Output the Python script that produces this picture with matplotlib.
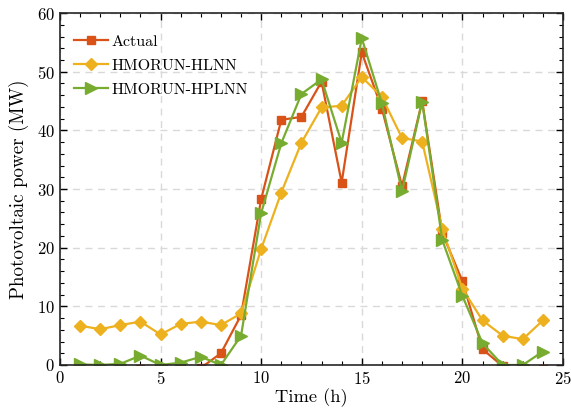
import numpy as np
import matplotlib.pyplot as plt
from matplotlib.ticker import MultipleLocator

plt.rcParams['font.family'] = 'serif'
plt.rcParams['font.serif'] = ['cmr10', 'DejaVu Serif']
plt.rcParams['mathtext.fontset'] = 'cm'
plt.rcParams['axes.formatter.use_mathtext'] = True

# datos (los valores negativos quedan recortados por el eje)
horas = np.arange(1, 25)
real = [-0.6, -0.6, -0.6, -0.6, -0.6, -0.6, -0.5, 2.0, 8.5, 28.3, 41.8, 42.3, 48.3,
        31.1, 53.3, 43.7, 30.5, 45.0, 22.5, 14.3, 2.7, -0.2, -0.6, -0.6]
hlnn = [6.7, 6.1, 6.8, 7.4, 5.2, 7.0, 7.4, 6.8, 8.8, 19.8, 29.4, 37.9, 43.9, 44.2,
        49.1, 45.7, 38.7, 38.1, 23.2, 13.0, 7.6, 5.0, 4.4, 7.6]
hplnn = [0.1, 0.0, 0.2, 1.6, 0.0, 0.4, 1.4, 0.0, 5.0, 25.9, 37.8, 46.2, 48.7, 37.9,
         55.7, 44.6, 29.6, 44.9, 21.3, 11.8, 3.7, 0.0, 0.0, 2.3]
etiquetas = ['Actual', 'HMORUN-HLNN', 'HMORUN-HPLNN']

fig = plt.figure(figsize=(5.71, 4.16), dpi=100)
ax = fig.add_axes([0.105, 0.1226, 0.881, 0.846])

ax.plot(horas, real, '-s', color='#D95319', lw=1.6, ms=6, label=etiquetas[0])
ax.plot(horas, hlnn, '-D', color='#EDB120', lw=1.6, ms=6.5, label=etiquetas[1])
ax.plot(horas, hplnn, '->', color='#77AC30', lw=1.6, ms=8, label=etiquetas[2])

ax.set_xlim(0, 25)
ax.set_ylim(0, 60)
ax.xaxis.set_major_locator(MultipleLocator(5))
ax.xaxis.set_minor_locator(MultipleLocator(1))
ax.yaxis.set_major_locator(MultipleLocator(10))
ax.yaxis.set_minor_locator(MultipleLocator(2))
ax.tick_params(which='both', direction='in', top=True, right=True, labelsize=12)
ax.tick_params(which='major', length=5, width=1)
ax.tick_params(which='minor', length=3, width=0.8)
for s in ax.spines.values():
    s.set_linewidth(1.2)
    s.set_color('#262626')

ax.grid(True, which='major', ls=(0, (5, 4)), color='#d9d9d9', lw=1)
ax.set_axisbelow(True)

ax.set_xlabel('Time (h)', fontsize=13.3, labelpad=1)
ax.set_ylabel('Photovoltaic power (MW)', fontsize=13.7, labelpad=6)
ax.legend(loc='upper left', bbox_to_anchor=(-0.014, 1.0), frameon=False,
          fontsize=11.5, handlelength=2.1, borderaxespad=0.95,
          labelspacing=0.62, handletextpad=0.2)

fig.savefig('out.png', dpi=100)
